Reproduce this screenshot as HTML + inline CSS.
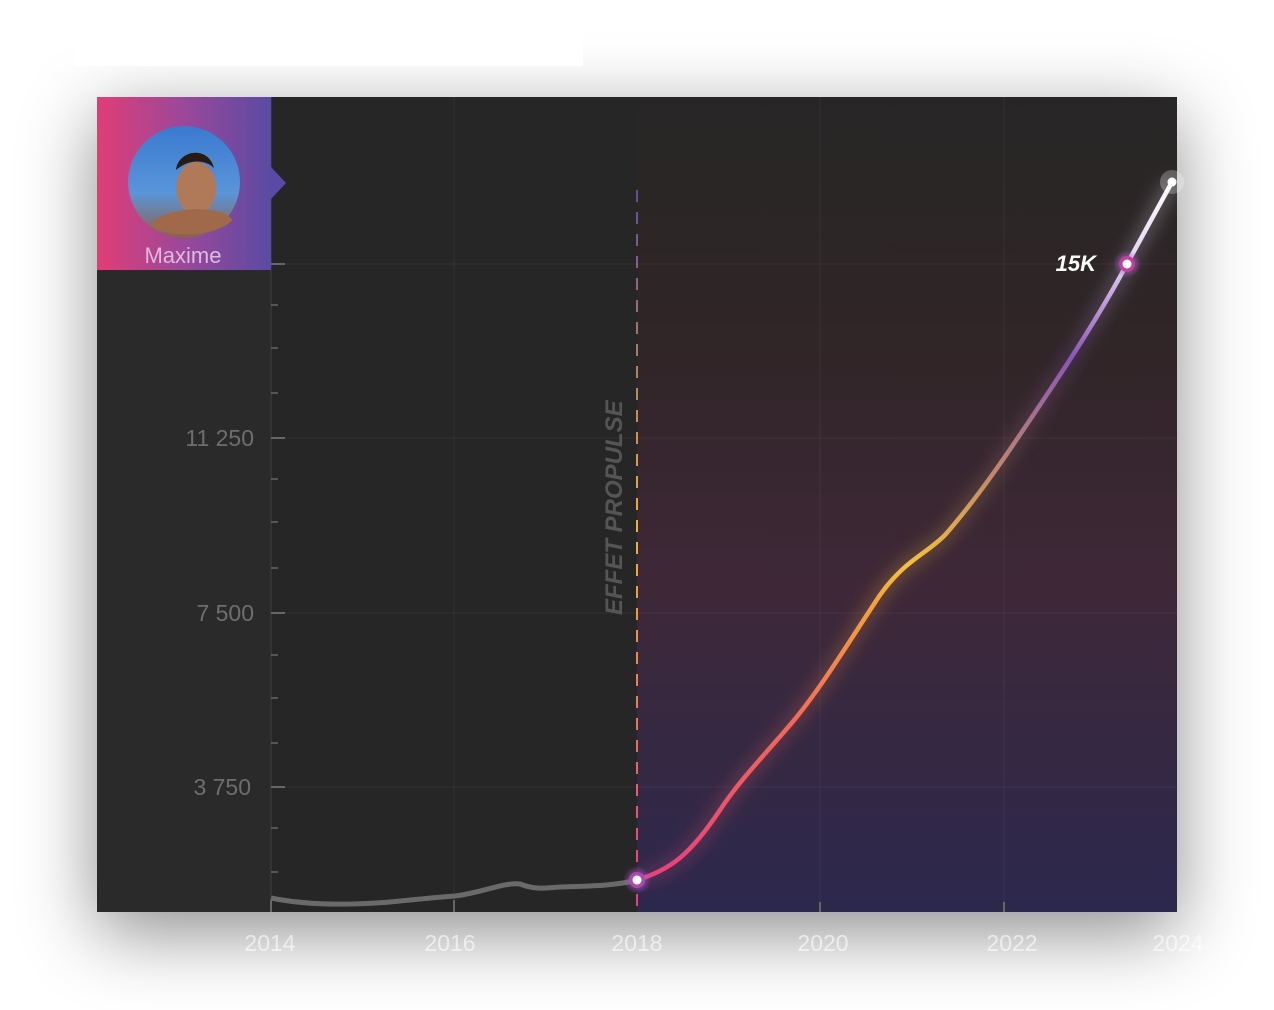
<!DOCTYPE html>
<html><head><meta charset="utf-8"><style>
body{margin:0;width:1274px;height:1010px;background:#fff;overflow:hidden;font-family:"Liberation Sans",sans-serif}
</style></head><body>
<div style="position:absolute;left:97px;top:97px;width:1080px;height:815px;box-shadow:0 20px 70px rgba(0,0,0,0.45)"></div>
<svg width="1274" height="1010" style="position:absolute;left:0;top:0">
<defs>
<linearGradient id="bg" x1="0" y1="97" x2="0" y2="912" gradientUnits="userSpaceOnUse">
<stop offset="0" stop-color="#272626"/><stop offset="0.3" stop-color="#302527"/><stop offset="0.6" stop-color="#3e2838"/><stop offset="1" stop-color="#2c284d"/></linearGradient>
<linearGradient id="av" x1="0" x2="1"><stop offset="0" stop-color="#e13d76"/><stop offset="0.5" stop-color="#9a489a"/><stop offset="1" stop-color="#5b4aa3"/></linearGradient>
<linearGradient id="ln" x1="0" y1="880" x2="0" y2="182" gradientUnits="userSpaceOnUse">
<stop offset="0" stop-color="#e9407a"/><stop offset="0.22" stop-color="#f26858"/><stop offset="0.4" stop-color="#f7a338"/><stop offset="0.45" stop-color="#f5c03a"/><stop offset="0.58" stop-color="#c08a6a"/><stop offset="0.75" stop-color="#8a55b8"/><stop offset="0.88" stop-color="#e0d0f0"/><stop offset="1" stop-color="#ffffff"/></linearGradient>
<linearGradient id="dl" x1="0" y1="180" x2="0" y2="880" gradientUnits="userSpaceOnUse"><stop offset="0" stop-color="#5b4aa3"/><stop offset="0.5" stop-color="#f5b030"/><stop offset="1" stop-color="#e9407a"/></linearGradient>
<filter id="gl" x="-20%" y="-20%" width="140%" height="140%"><feGaussianBlur stdDeviation="8"/></filter>
<radialGradient id="cg"><stop offset="0" stop-color="#b05ad0"/><stop offset="1" stop-color="#b05ad0" stop-opacity="0"/></radialGradient>
</defs>
<rect x="74" y="0" width="509" height="66" fill="#fff"/>
<rect x="97" y="97" width="1080" height="815" fill="#262626"/>
<rect x="97" y="97" width="174" height="815" fill="#2a2a2a"/>
<rect x="637" y="97" width="540" height="815" fill="url(#bg)"/>
<g stroke="#ffffff" stroke-opacity="0.05" stroke-width="1">
<line x1="271" y1="264" x2="1177" y2="264"/><line x1="271" y1="438" x2="1177" y2="438"/><line x1="271" y1="613" x2="1177" y2="613"/><line x1="271" y1="787" x2="1177" y2="787"/>
<line x1="454" y1="97" x2="454" y2="912"/><line x1="820" y1="97" x2="820" y2="912"/><line x1="1004" y1="97" x2="1004" y2="912"/>
</g>
<g stroke="#666" stroke-width="2">
<line x1="271" y1="97" x2="271" y2="912" stroke="#333"/>
<line x1="271" y1="264" x2="285" y2="264"/><line x1="271" y1="438" x2="285" y2="438"/><line x1="271" y1="613" x2="285" y2="613"/><line x1="271" y1="787" x2="285" y2="787"/>
<g stroke-width="1.5"><line x1="271" y1="305" x2="278" y2="305"/><line x1="271" y1="348" x2="278" y2="348"/><line x1="271" y1="393" x2="278" y2="393"/><line x1="271" y1="479" x2="278" y2="479"/><line x1="271" y1="522" x2="278" y2="522"/><line x1="271" y1="568" x2="278" y2="568"/><line x1="271" y1="655" x2="278" y2="655"/><line x1="271" y1="698" x2="278" y2="698"/><line x1="271" y1="743" x2="278" y2="743"/><line x1="271" y1="828" x2="278" y2="828"/><line x1="271" y1="872" x2="278" y2="872"/></g>
<line x1="271" y1="912" x2="271" y2="900"/><line x1="454" y1="912" x2="454" y2="900"/><line x1="820" y1="912" x2="820" y2="902"/><line x1="1004" y1="912" x2="1004" y2="902"/>
</g>
<line x1="637" y1="190" x2="637" y2="912" stroke="url(#dl)" stroke-width="2" stroke-dasharray="12,10"/>
<g font-size="23" fill="#6e6e6e" text-anchor="end"><text x="254" y="446">11 250</text><text x="254" y="621">7 500</text><text x="251" y="795">3 750</text></g>
<text transform="translate(622,615) rotate(-90)" font-size="24" font-weight="bold" font-style="italic" fill="#555">EFFET PROPULSE</text>
<g font-size="23" fill="#ffffff" fill-opacity="0.6" text-anchor="middle"><text x="270" y="951">2014</text><text x="450" y="951">2016</text><text x="637" y="951">2018</text><text x="823" y="951">2020</text><text x="1012" y="951">2022</text><text x="1178" y="951">2024</text></g>
<path d="M271,898 C300,904 340,906 390,902 C420,899 440,897 455,896 C480,893 505,882 520,884 C535,890 545,888 560,887 C590,886 615,886 637,880" fill="none" stroke="#6a6a6a" stroke-width="5"/>
<path d="M637,880 C670,870 690,855 720,810 C740,780 760,760 790,725 C820,690 850,640 880,595 C905,560 925,555 945,535 C980,495 1010,450 1050,390 C1080,345 1105,305 1127,264 L1172,182" fill="none" stroke="url(#ln)" stroke-width="14" stroke-opacity="0.25" filter="url(#gl)"/>
<path d="M637,880 C670,870 690,855 720,810 C740,780 760,760 790,725 C820,690 850,640 880,595 C905,560 925,555 945,535 C980,495 1010,450 1050,390 C1080,345 1105,305 1127,264 L1172,182" fill="none" stroke="url(#ln)" stroke-width="4.5" stroke-linecap="round"/>
<circle cx="637" cy="880" r="14" fill="url(#cg)"/><circle cx="637" cy="880" r="8" fill="#b048b0"/><circle cx="637" cy="880" r="4.5" fill="#fff"/>
<circle cx="1127" cy="264" r="14" fill="url(#cg)"/><circle cx="1127" cy="264" r="8" fill="#c040a0"/><circle cx="1127" cy="264" r="4.5" fill="#fff"/>
<circle cx="1172" cy="182" r="12" fill="#fff" fill-opacity="0.25"/><circle cx="1172" cy="182" r="4.5" fill="#fff"/>
<text x="1096" y="271" font-size="22" font-weight="bold" font-style="italic" fill="#fff" text-anchor="end">15K</text>
<rect x="97" y="97" width="174" height="173" fill="url(#av)"/>
<polygon points="271,167 286,183 271,199" fill="#5b4aa3"/>
<defs><linearGradient id="sky" x1="0" y1="0" x2="0" y2="1"><stop offset="0" stop-color="#3a7ad0"/><stop offset="0.6" stop-color="#5a95d8"/><stop offset="1" stop-color="#8b6048"/></linearGradient></defs>
<circle cx="184" cy="182" r="56" fill="url(#sky)"/>
<ellipse cx="196" cy="188" rx="20" ry="26" fill="#b07a58"/>
<path d="M176,170 C178,150 208,145 214,168 C206,160 190,158 176,170Z" fill="#2a1a12"/>
<path d="M150,225 C165,205 225,205 232,220 C220,236 165,240 150,225Z" fill="#a06a4a"/>
<text x="183" y="263" font-size="22" fill="#e0b8e0" text-anchor="middle">Maxime</text>
</svg>
</body></html>
